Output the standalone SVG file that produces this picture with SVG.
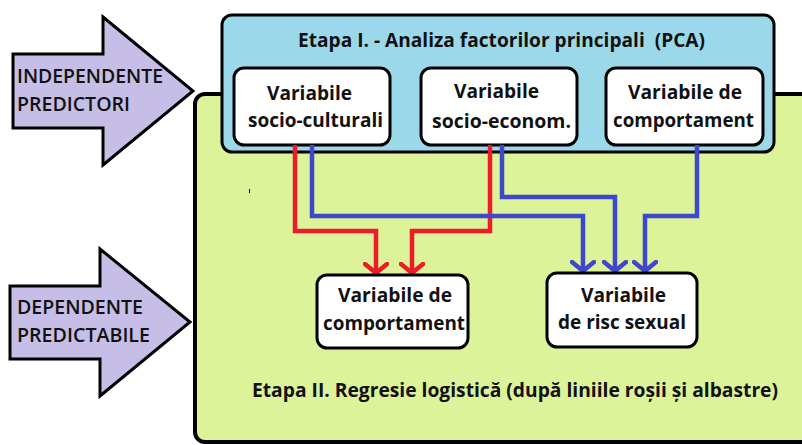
<svg xmlns="http://www.w3.org/2000/svg" width="802" height="445" viewBox="0 0 802 445">
<defs>
<style>
.t{font-family:"Open Sans","Liberation Sans",sans-serif;font-weight:bold;font-size:19px;fill:#111;text-anchor:middle}
.lab{font-family:"Open Sans","Liberation Sans",sans-serif;font-weight:600;font-size:19.5px;fill:#111}
.box{fill:#fff;stroke:#000;stroke-width:3}
.arr{fill:#c6bee6;stroke:#000;stroke-width:3;stroke-linejoin:miter}
.red{fill:none;stroke:#ee1c25;stroke-width:4.5}
.blue{fill:none;stroke:#3f48cc;stroke-width:4.5}
</style>
<marker id="hr" viewBox="0 0 14 26" refX="12" refY="13" markerWidth="14" markerHeight="26" markerUnits="userSpaceOnUse" orient="auto">
<path d="M2,2 L11,13 L2,24" fill="none" stroke="#ee1c25" stroke-width="4.5" stroke-linecap="round"/>
</marker>
<marker id="hb" viewBox="0 0 14 26" refX="12" refY="13" markerWidth="14" markerHeight="26" markerUnits="userSpaceOnUse" orient="auto">
<path d="M2,2 L11,13 L2,24" fill="none" stroke="#3f48cc" stroke-width="4.5" stroke-linecap="round"/>
</marker>
</defs>
<rect width="802" height="445" fill="#fff"/>
<g id="stage2">
<rect x="195" y="94" width="640" height="348" rx="10" fill="#dcf39a" stroke="#000" stroke-width="4"/>
<text class="t" x="515" y="397" font-size="18" textLength="526" lengthAdjust="spacingAndGlyphs">Etapa II. Regresie logistică (după liniile roșii și albastre)</text>
<line x1="249.5" y1="189" x2="249.5" y2="193" stroke="#000" stroke-width="1"/>
</g>
<g id="stage1">
<rect x="222" y="15" width="552" height="137" rx="10" fill="#9bd9ea" stroke="#000" stroke-width="3"/>
<text class="t" x="501.5" y="47" font-size="18" textLength="407" lengthAdjust="spacingAndGlyphs" xml:space="preserve">Etapa I. - Analiza factorilor principali  (PCA)</text>
</g>
<g id="arrow-independent">
<path class="arr" d="M13,54 H103 V17 L193,91 L103,165 V128 H13 Z"/>
<text class="lab" x="17" y="83" textLength="146" lengthAdjust="spacingAndGlyphs">INDEPENDENTE</text>
<text class="lab" x="17" y="111" textLength="113" lengthAdjust="spacingAndGlyphs">PREDICTORI</text>
</g>
<g id="arrow-dependent">
<path class="arr" d="M10,286 H100 V249 L190,322 L100,396 V359 H10 Z"/>
<text class="lab" x="17" y="314" textLength="126" lengthAdjust="spacingAndGlyphs">DEPENDENTE</text>
<text class="lab" x="17" y="342" textLength="133" lengthAdjust="spacingAndGlyphs">PREDICTABILE</text>
</g>
<g id="n-socio-cult">
<rect class="box" x="234" y="68" width="156" height="77" rx="10"/>
<text class="t" x="309.5" y="100" textLength="85" lengthAdjust="spacingAndGlyphs">Variabile</text>
<text class="t" x="315.5" y="127" textLength="135" lengthAdjust="spacingAndGlyphs">socio-culturali</text>
</g>
<g id="n-socio-econ">
<rect class="box" x="421" y="68" width="156" height="77" rx="10"/>
<text class="t" x="496.5" y="98" textLength="85" lengthAdjust="spacingAndGlyphs">Variabile</text>
<text class="t" x="501.5" y="128" textLength="139" lengthAdjust="spacingAndGlyphs">socio-econom.</text>
</g>
<g id="n-comport-top">
<rect class="box" x="606" y="68" width="157" height="77" rx="10"/>
<text class="t" x="685" y="99" textLength="114" lengthAdjust="spacingAndGlyphs">Variabile de</text>
<text class="t" x="683.5" y="127" textLength="141" lengthAdjust="spacingAndGlyphs">comportament</text>
</g>
<g id="connectors">
<path class="red" d="M295,145 V231 H376 V274" marker-end="url(#hr)"/>
<path class="red" d="M490,145 V231 H412 V274" marker-end="url(#hr)"/>
<path class="blue" d="M312,145 V216 H583 V272" marker-end="url(#hb)"/>
<path class="blue" d="M502,145 V197 H615 V272" marker-end="url(#hb)"/>
<path class="blue" d="M697,145 V216 H645 V272" marker-end="url(#hb)"/>
</g>
<g id="n-comport-bottom">
<rect class="box" x="317" y="275" width="151" height="73" rx="10"/>
<text class="t" x="395" y="302" textLength="114" lengthAdjust="spacingAndGlyphs">Variabile de</text>
<text class="t" x="394" y="330" textLength="142" lengthAdjust="spacingAndGlyphs">comportament</text>
</g>
<g id="n-risc">
<rect class="box" x="547" y="273" width="150" height="74" rx="10"/>
<text class="t" x="623.5" y="302" textLength="85" lengthAdjust="spacingAndGlyphs">Variabile</text>
<text class="t" x="622" y="329" textLength="128" lengthAdjust="spacingAndGlyphs">de risc sexual</text>
</g>
</svg>
